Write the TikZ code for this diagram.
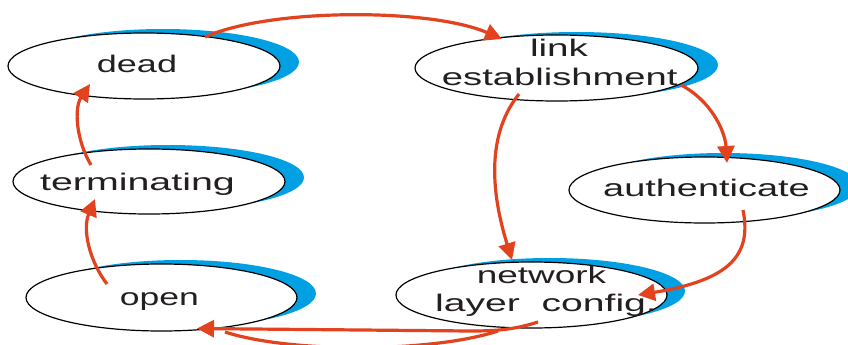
\documentclass[tikz,border=0pt]{standalone}
\usepackage{fontspec}
\setmainfont{Liberation Sans}
\usetikzlibrary{shapes.geometric,arrows.meta,calc}
\definecolor{pppred}{RGB}{226,66,30}
\definecolor{pppblue}{RGB}{0,160,226}
\definecolor{ppptext}{RGB}{35,31,32}
\newcommand\wtxt[2]{\scalebox{#1}[1]{#2}}
\begin{document}
\begin{tikzpicture}[x=1pt,y=-1pt,
  stateell/.style={ellipse, draw=black, line width=1.2pt, fill=white, inner sep=0pt, minimum width=272pt, minimum height=66pt},
  lbl/.style={font=\fontsize{24}{28}\selectfont, text=ppptext, inner sep=0pt, anchor=base},
  arr/.style={draw=pppred, line width=3.2pt, -{Triangle[length=17pt,width=17pt]}},
  redline/.style={draw=pppred, line width=3.2pt},
  shade/.style={fill=pppblue}]
\clip (0,0) rectangle (848,345);
\fill[white] (0,0) rectangle (848,345);
% centres
\coordinate (cdead) at (144,66);
\coordinate (clink) at (556.5,68);
\coordinate (cterm) at (149,181.5);
\coordinate (cauth) at (704.5,190);
\coordinate (cnet)  at (531.5,295);
\coordinate (copen) at (161.5,297.5);
% blue crescents
\fill[shade] ($(cdead)+(19,-4)$) ellipse [x radius=136pt, y radius=33pt];
\fill[shade] ($(clink)+(20,-3)$) ellipse [x radius=141.5pt, y radius=33pt];
\fill[shade] ($(cterm)+(19,-4)$) ellipse [x radius=136pt, y radius=32.5pt];
\fill[shade] ($(cauth)+(19,-4)$) ellipse [x radius=135.5pt, y radius=33pt];
\fill[shade] ($(cnet)+(18,-4)$) ellipse [x radius=135.5pt, y radius=33pt];
\fill[shade] ($(copen)+(19,-4)$) ellipse [x radius=135.5pt, y radius=33.5pt];
% state ellipses
\node[stateell] (dead) at (cdead) {};
\node[stateell, minimum width=283pt] (link) at (clink) {};
\node[stateell, minimum height=65pt] (term) at (cterm) {};
\node[stateell, minimum width=271pt] (auth) at (cauth) {};
\node[stateell, minimum width=271pt] (net) at (cnet) {};
\node[stateell, minimum width=271pt, minimum height=67pt] (open) at (copen) {};
% arrows
\draw[arr] ($(dead)+(61,-29)$) .. controls +(65,-29) and +(-72,-31) .. ($(link)+(-54.5,-29)$);
\draw[arr] ($(link)+(124.5,17)$) .. controls +(29,15) and +(-2,-33) .. ($(auth)+(22.5,-27)$);
\draw[arr] ($(link)+(-37.5,26)$) .. controls +(-37,46) and +(-17,-55) .. ($(net)+(-19.5,-35)$);
\draw[arr] ($(auth)+(38.5,20)$) .. controls +(9,45) and +(92,-15) .. ($(net)+(106.5,0)$);
\coordinate (nb) at (470,331);
\draw[arr] ($(net)+(6.5,27)$) .. controls +(-25,8) and +(25,0) .. (nb) -- ($(open)+(35.5,31)$);
\coordinate (la) at (498,331);
\coordinate (lb) at (225,332);
\draw[redline] (la) .. controls (430,353) and (290,353) .. (lb);
\draw[arr] ($(open)+(-54.5,-13.5)$) .. controls +(-17,-22) and +(-13,31) .. ($(term)+(-54,17.5)$);
\draw[arr] ($(term)+(-58,-16.5)$) .. controls +(-15,-25) and +(-16,24) .. ($(dead)+(-54,18)$);
% labels
\node[lbl] (tdead) at (137,73) {\wtxt{1.50}{dead}};
\node[lbl] (tlink) at (559,56.7) {\wtxt{1.61}{link}};
\node[lbl] (testab) at (559.7,85) {\wtxt{1.59}{establishment}};
\node[lbl] (tterm) at (137.5,190.7) {\wtxt{1.64}{terminating}};
\node[lbl] (tauth) at (706.5,196.7) {\wtxt{1.58}{authenticate}};
\node[lbl] (tnet) at (541.5,283.3) {\wtxt{1.54}{network}};
\node[lbl] (tlayer) at (546,311) {\wtxt{1.63}{layer\ \ config.}};
\node[lbl] (topen) at (159.5,305) {\wtxt{1.48}{open}};
\end{tikzpicture}
\end{document}
